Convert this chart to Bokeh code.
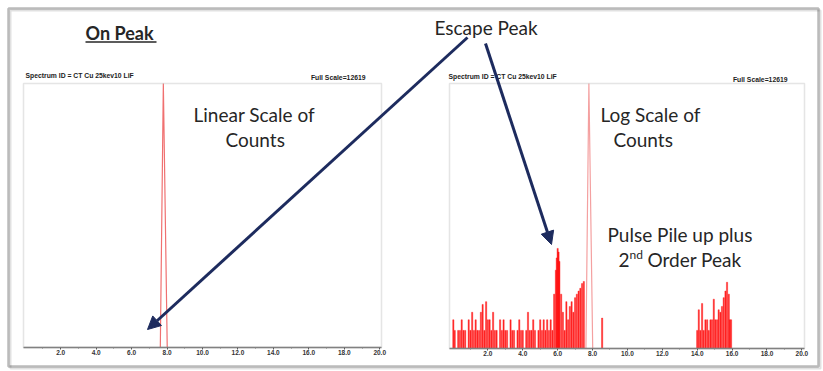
import math
from bokeh.plotting import figure
from bokeh.models import (Range1d, LinearAxis, LogScale, FixedTicker, PrintfTickFormatter,
                          BoxAnnotation, Arrow, NormalHead, ColumnDataSource)
from bokeh.core.properties import value
from bokeh.embed import file_html
from bokeh.resources import INLINE

# ---------------- data ----------------
FULL_SCALE = 12619
spectrum_title = "Spectrum ID = CT Cu 25kev10 LiF"
scale_title = "Full Scale=12619"

# main Cu peak (energy axis units as printed, counts)
peak_energy = [7.62, 7.79, 8.01]
peak_counts = [0, 12619, 0]

# low-level counts (visible only on the log panel)
bg_energy = [0.02, 0.1, 0.3, 0.4, 0.5, 0.6, 0.7, 0.9, 1.0, 1.1, 1.2, 1.3, 1.4, 1.5, 1.6, 1.7,
             1.8, 1.9, 2.0, 2.1, 2.2, 2.3, 2.4, 2.5, 2.7, 2.8, 2.9, 3.0, 3.1, 3.3, 3.4, 3.5,
             3.7, 3.8, 3.9, 4.0, 4.2, 4.3, 4.4, 4.5, 4.6, 4.7, 4.9, 5.0, 5.1, 5.2, 5.3, 5.4,
             5.5, 5.6, 5.7, 5.8, 5.9, 5.95, 6.0, 6.05, 6.1, 6.2, 6.3, 6.4, 6.5, 6.6, 6.7, 6.8,
             6.9, 7.0, 7.1, 7.2, 7.3, 7.4, 7.5, 8.55,
             14.0, 14.09, 14.18, 14.28, 14.37, 14.47, 14.57, 14.66, 14.76, 14.85, 14.95,
             15.04, 15.14, 15.23, 15.33, 15.42, 15.52, 15.62, 15.71, 15.81, 15.87, 15.94]
bg_counts = [1.5, 1, 1, 1, 1.5, 1, 1, 1.5, 1, 2, 1, 1.5, 1, 1, 2, 2.7,
             1, 3, 1.5, 1.5, 1, 2, 1, 1, 1.5, 1, 1.5, 1, 1, 1.5, 1, 1,
             1, 1.5, 1, 1, 1, 2, 1, 1, 1.5, 1, 1, 1.5, 1, 1.5, 1, 1.5,
             1, 1.5, 1, 4, 10, 16, 23, 20, 14, 4, 2, 1, 3, 1.5, 2.5, 3,
             2, 3.5, 4, 4.5, 5, 6, 6.5, 1.6,
             1, 2.2, 1, 2.8, 1, 1.5, 1.5, 1, 1.5, 1.5, 3.3,
             1.5, 1.5, 2.2, 2, 2.5, 3.5, 4.5, 6.3, 4, 1.5, 1.5]

tick_values = [2.0, 4.0, 6.0, 8.0, 10.0, 12.0, 14.0, 16.0, 18.0, 20.0]
minor_values = [1.0, 3.0, 5.0, 7.0, 9.0, 11.0, 13.0, 15.0, 17.0, 19.0]

# ---------------- layout (page pixel coordinates) ----------------
W, H = 823, 371
PX0, PX1 = 0, W
PY0, PY1 = 0, H
LEFT_BOX = dict(x0=23, x1=381, y0=83, y1=347)
RIGHT_BOX = dict(x0=449, x1=804, y0=83, y1=348)
LX = (-0.1, 20.1)
RX = (-0.2, 20.15)
LY = (0.0, FULL_SCALE)
LOG_FLOOR = 0.5
RY = (LOG_FLOOR, FULL_SCALE)


def x_range_for(box, a, b):
    k = (b - a) / (box["x1"] - box["x0"])
    return Range1d(start=a - (box["x0"] - PX0) * k, end=b + (PX1 - box["x1"]) * k)


def y_range_lin(box, a, b):
    k = (b - a) / (box["y1"] - box["y0"])
    return Range1d(start=a - (PY1 - box["y1"]) * k, end=b + (box["y0"] - PY0) * k)


def y_range_log(box, a, b):
    la, lb = math.log10(a), math.log10(b)
    k = (lb - la) / (box["y1"] - box["y0"])
    return Range1d(start=10 ** (la - (PY1 - box["y1"]) * k), end=10 ** (lb + (box["y0"] - PY0) * k))


p = figure(width=W, height=H, output_backend="svg", toolbar_location=None,
           x_range=Range1d(PX0, PX1), y_range=Range1d(PY1, PY0),
           x_axis_location=None, y_axis_location=None, min_border=0)
p.xgrid.grid_line_color = None
p.ygrid.grid_line_color = None
p.outline_line_color = None
p.background_fill_color = "white"
p.border_fill_color = "white"

p.extra_x_ranges = {"lx": x_range_for(LEFT_BOX, *LX), "rx": x_range_for(RIGHT_BOX, *RX)}
p.extra_y_ranges = {"ly": y_range_lin(LEFT_BOX, *LY), "ry": y_range_log(RIGHT_BOX, *RY)}
p.extra_y_scales = {"ry": LogScale()}

# slide border (with faint shadow)
p.add_layout(BoxAnnotation(left=10, right=820, top=10, bottom=368, fill_color=None,
                           line_color="#9a9a9a", line_width=2))
p.add_layout(BoxAnnotation(left=8, right=818, top=8, bottom=366, fill_color=None,
                           line_color="#1e1e1e", line_width=2.5))

# panel frames
for box in (LEFT_BOX, RIGHT_BOX):
    p.add_layout(BoxAnnotation(left=box["x0"], right=box["x1"], top=box["y0"], bottom=box["y1"],
                               fill_color=None, line_color="#a8a8a8", line_width=1.5))

# axes at the bottom of each panel
for xr, box, bnds in (("lx", LEFT_BOX, LX), ("rx", RIGHT_BOX, RX)):
    ax = LinearAxis(x_range_name=xr, fixed_location=box["y1"], bounds=bnds,
                    ticker=FixedTicker(ticks=tick_values, minor_ticks=minor_values),
                    formatter=PrintfTickFormatter(format="%.1f"))
    ax.axis_line_color = "#707070"
    ax.axis_line_width = 1.5
    ax.major_tick_line_color = "#555555"
    ax.minor_tick_line_color = "#777777"
    ax.major_tick_in = 0
    ax.major_tick_out = 2
    ax.minor_tick_in = 0
    ax.minor_tick_out = 1
    ax.major_label_standoff = 0
    ax.major_label_text_font = "Liberation Sans"
    ax.major_label_text_font_size = "6.5px"
    ax.major_label_text_font_style = "bold"
    ax.major_label_text_color = "#333333"
    p.add_layout(ax, "below")

# left panel: linear counts
p.line(peak_energy, peak_counts, x_range_name="lx", y_range_name="ly",
       line_color="#f07070", line_width=1.2)

# right panel: log counts
src = ColumnDataSource(dict(x=bg_energy, top=bg_counts))
p.vbar(x="x", top="top", bottom=LOG_FLOOR, width=0.07, source=src,
       x_range_name="rx", y_range_name="ry", fill_color="#ff0000", line_color="#ff1a1a",
       line_width=0.5, fill_alpha=0.85, line_alpha=0.8)
p.line(peak_energy, [max(c, LOG_FLOOR) for c in peak_counts], x_range_name="rx", y_range_name="ry",
       line_color="#f4a0a0", line_width=1.2)

# small panel captions
small = dict(text_font=value("Liberation Sans"), text_font_size="6.8px", text_font_style="bold",
             text_color="#222222", text_baseline="middle")
p.text(x=[25, 448], y=[75, 76], text=[spectrum_title, spectrum_title], text_align="left", **small)
p.text(x=[365, 787], y=[77, 79], text=[scale_title, scale_title], text_align="right", **small)

# slide annotations
big = dict(text_font=value("Lato"), text_font_size="19px", text_color="#262626",
           text_baseline="middle", text_align="left")
p.text(x=[85], y=[32], text=["On Peak"], text_font=value("Lato"), text_font_size="18px",
       text_font_style="bold", text_color="#262626", text_baseline="middle", text_align="left")
p.segment(x0=[85], y0=[41.5], x1=[156], y1=[41.5], line_color="#262626", line_width=1.5)
p.text(x=[434, 193, 225, 600, 613, 607, 647],
       y=[27, 114, 139, 114, 139, 234, 259],
       text=["Escape Peak", "Linear Scale of", "Counts", "Log Scale of", "Counts",
             "Pulse Pile up plus", "Order Peak"], **big)
p.text(x=[618], y=[259], text=["2"], **big)
p.text(x=[629], y=[254], text=["nd"], text_font=value("Lato"), text_font_size="12px",
       text_color="#262626", text_baseline="middle", text_align="left")

navy = "#1d2b5e"
for xs, ys, xe, ye in ((467, 37, 147, 329), (485, 43, 551, 244)):
    p.add_layout(Arrow(end=NormalHead(size=13, fill_color=navy, line_color=navy, line_width=1),
                       x_start=xs, y_start=ys, x_end=xe, y_end=ye,
                       line_color=navy, line_width=3))

open("out.html", "w").write(file_html(p, INLINE))
